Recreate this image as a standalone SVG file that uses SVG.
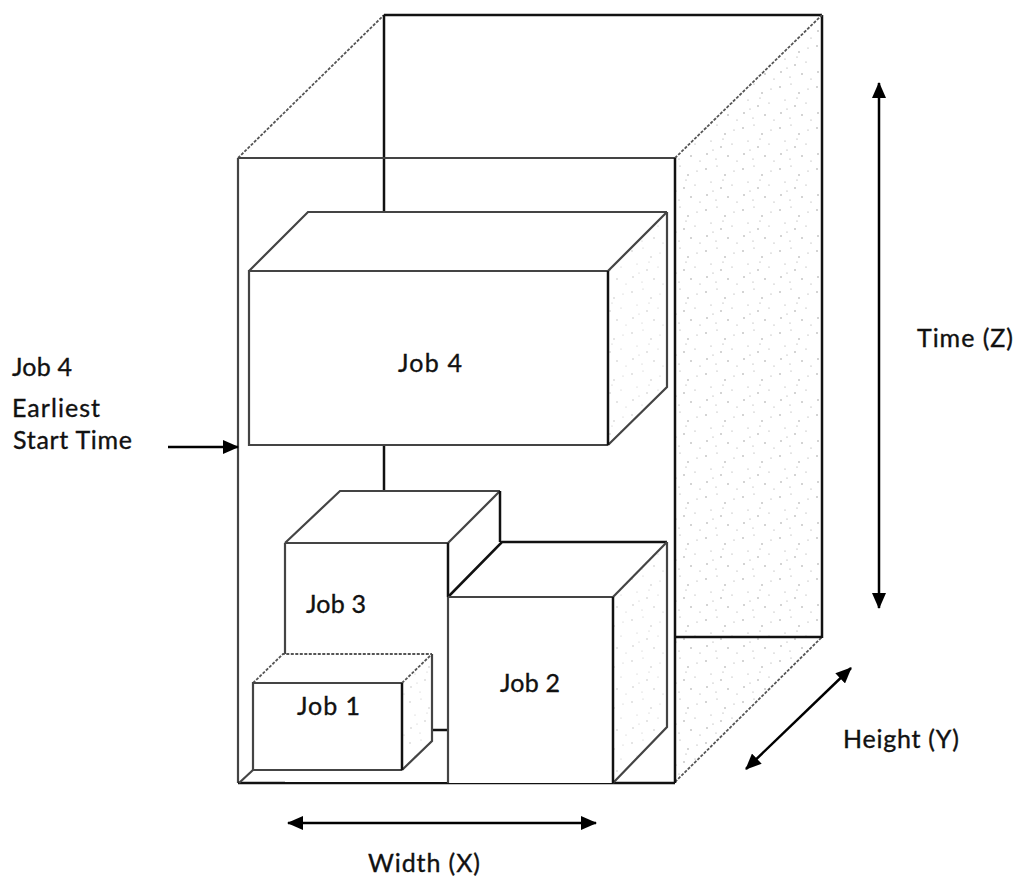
<svg xmlns="http://www.w3.org/2000/svg" width="1017" height="876" viewBox="0 0 1017 876">
<style>
  .t{font-family:Lato,"Liberation Sans",sans-serif;font-size:25px;fill:#111;stroke:#111;stroke-width:0.35}
  .blk{fill:none;stroke:#111;stroke-width:2.5}
  .gry{fill:none;stroke:#444;stroke-width:2.2}
  .dot{fill:none;stroke:#555;stroke-width:1.8;stroke-dasharray:3 1.5}
  .face{fill:#fff;stroke:none}
  .arr{fill:none;stroke:#000;stroke-width:2.5}
</style>
<defs>
  <pattern id="speck" width="37" height="41" patternUnits="userSpaceOnUse">
    <circle cx="3" cy="5" r="0.7" fill="#888"/>
    <circle cx="14" cy="2" r="0.6" fill="#999"/>
    <circle cx="22" cy="11" r="0.7" fill="#888"/>
    <circle cx="31" cy="7" r="0.6" fill="#999"/>
    <circle cx="8" cy="18" r="0.6" fill="#999"/>
    <circle cx="18" cy="24" r="0.7" fill="#888"/>
    <circle cx="29" cy="21" r="0.6" fill="#999"/>
    <circle cx="4" cy="31" r="0.7" fill="#888"/>
    <circle cx="13" cy="36" r="0.6" fill="#999"/>
    <circle cx="25" cy="33" r="0.7" fill="#888"/>
    <circle cx="34" cy="38" r="0.6" fill="#999"/>
    <circle cx="10" cy="27" r="0.6" fill="#999"/>
    <circle cx="20" cy="16" r="0.6" fill="#999"/>
  </pattern>
  <marker id="ah" viewBox="0 0 16 14" refX="15" refY="7" markerWidth="16" markerHeight="14" markerUnits="userSpaceOnUse" orient="auto-start-reverse">
    <path d="M0,0 L16,7 L0,14 Z" fill="#000"/>
  </marker>
</defs>

<g id="container">
  <polygon points="675,158 822,15 822,637 675,782" fill="url(#speck)" stroke="none"/>
  <line x1="384" y1="15" x2="822" y2="15" class="blk" stroke-width="3"/>
  <line x1="822" y1="15" x2="822" y2="638" class="blk" stroke-width="3"/>
  <line x1="238" y1="158" x2="384" y2="15" class="dot"/>
  <line x1="675" y1="158" x2="822" y2="15" class="dot"/>
  <line x1="675" y1="782" x2="822" y2="637" class="dot"/>
  <line x1="675" y1="637" x2="822" y2="637" class="blk"/>
  <line x1="384" y1="15" x2="384" y2="212" class="blk" stroke-width="2"/>
  <line x1="384" y1="445" x2="384" y2="491" class="blk" stroke-width="2"/>
  <line x1="238" y1="158" x2="675" y2="158" class="gry" stroke="#333"/>
  <line x1="238" y1="158" x2="238" y2="783" class="gry" stroke="#666"/>
  <line x1="675" y1="158" x2="675" y2="783" class="blk" stroke-width="3"/>
  <line x1="238" y1="783" x2="675" y2="783" class="blk"/>
</g>

<g id="job4">
  <polygon points="249,271 308,212 667,212 608,271" class="face"/>
  <polygon points="608,271 667,212 667,387 608,445" fill="#fff"/>
  <polygon points="608,271 667,212 667,387 608,445" fill="url(#speck)" opacity="0.6"/>
  <rect x="249" y="271" width="359" height="174" class="face"/>
  <polyline points="249,271 308,212 667,212" class="gry"/>
  <line x1="608" y1="271" x2="667" y2="212" class="gry"/>
  <polyline points="667,212 667,387 608,445" class="gry" stroke="#333"/>
  <polyline points="608,445 249,445 249,271 608,271" class="gry"/>
  <line x1="608" y1="271" x2="608" y2="445" class="blk"/>
  <text x="398" y="372" class="t" textLength="64">Job 4</text>
</g>

<g id="job3">
  <polygon points="285,543 340,491 500,491 448,543" class="face"/>
  <polygon points="448,543 500,491 500,542 448,597" class="face"/>
  <rect x="285" y="543" width="163" height="239" class="face"/>
  <polyline points="285,543 340,491 500,491" class="gry"/>
  <line x1="448" y1="543" x2="500" y2="491" class="gry"/>
  <line x1="500" y1="491" x2="500" y2="542" class="blk"/>
  <line x1="285" y1="543" x2="448" y2="543" class="gry" stroke="#333"/>
  <line x1="285" y1="543" x2="285" y2="655" class="gry"/>
  <line x1="448" y1="543" x2="448" y2="597" class="blk"/>
  <line x1="432" y1="730" x2="448" y2="730" class="blk" stroke-width="2"/>
  <text x="306" y="613" class="t" textLength="60">Job 3</text>
</g>

<g id="job2">
  <polygon points="448,597 502,542 667,542 613,597" class="face"/>
  <polygon points="613,597 667,542 667,727 613,783" fill="#fff"/>
  <polygon points="613,597 667,542 667,727 613,783" fill="url(#speck)" opacity="0.6"/>
  <rect x="448" y="597" width="165" height="186" class="face"/>
  <polyline points="448,597 502,542 667,542" class="blk" stroke-width="2"/>
  <line x1="613" y1="597" x2="667" y2="542" class="gry"/>
  <polyline points="667,542 667,727 613,783" class="gry" stroke="#444"/>
  <line x1="448" y1="597" x2="613" y2="597" class="gry" stroke="#333"/>
  <line x1="448" y1="597" x2="448" y2="783" class="gry" stroke="#777"/>
  <line x1="613" y1="597" x2="613" y2="783" class="blk"/>
  <text x="500" y="692" class="t" textLength="60">Job 2</text>
</g>

<g id="job1">
  <polygon points="253,683 283,654 432,654 402,683" class="face"/>
  <polygon points="402,683 432,654 432,741 402,770" fill="#fff"/>
  <polygon points="402,683 432,654 432,741 402,770" fill="url(#speck)" opacity="0.6"/>
  <rect x="253" y="683" width="149" height="87" class="face"/>
  <polyline points="253,683 283,654 432,654" class="dot"/>
  <line x1="402" y1="683" x2="432" y2="654" class="dot"/>
  <polyline points="432,654 432,741 402,770" class="gry" stroke="#333"/>
  <polyline points="402,770 253,770 253,683 402,683" class="gry" stroke="#333"/>
  <line x1="402" y1="683" x2="402" y2="770" class="blk"/>
  <line x1="239" y1="783" x2="253" y2="770" class="gry"/>
  <text x="297" y="715" class="t" textLength="63">Job 1</text>
</g>

<g id="connectors">
  <line x1="879" y1="83" x2="879" y2="608" class="arr" marker-start="url(#ah)" marker-end="url(#ah)"/>
  <line x1="288" y1="823" x2="596" y2="823" class="arr" marker-start="url(#ah)" marker-end="url(#ah)"/>
  <line x1="851" y1="668" x2="746" y2="769" class="arr" marker-start="url(#ah)" marker-end="url(#ah)"/>
  <line x1="168" y1="447" x2="238" y2="447" class="arr" stroke-width="2" marker-end="url(#ah)"/>
</g>

<g id="labels">
  <text x="12" y="376" class="t" textLength="60">Job 4</text>
  <text x="12" y="417" class="t" textLength="88">Earliest</text>
  <text x="13" y="449" class="t" textLength="119">Start Time</text>
  <text x="917" y="347" class="t" textLength="96">Time (Z)</text>
  <text x="843" y="748" class="t" textLength="116">Height (Y)</text>
  <text x="368" y="872" class="t" textLength="112">Width (X)</text>
</g>
</svg>
